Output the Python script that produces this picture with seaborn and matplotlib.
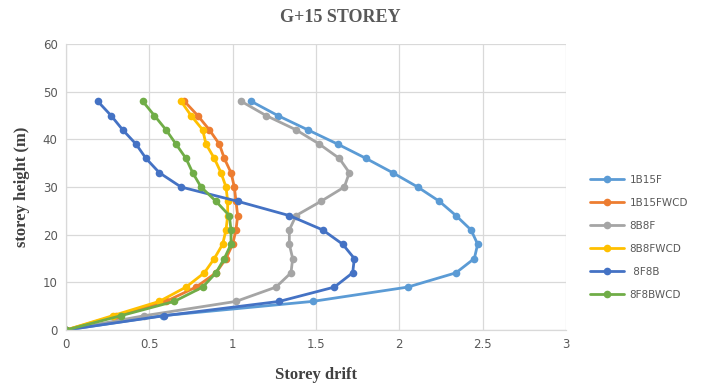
import numpy as np
import pandas as pd
import matplotlib
matplotlib.use("Agg")
import matplotlib.pyplot as plt
import seaborn as sns
from matplotlib.lines import Line2D

heights = [0, 3, 6, 9, 12, 15, 18, 21, 24, 27, 30, 33, 36, 39, 42, 45, 48]

s_1B15F = [0, 0.58, 1.48, 2.05, 2.34, 2.45, 2.47, 2.43, 2.34, 2.24, 2.11, 1.96, 1.80, 1.63, 1.45, 1.27, 1.11]
s_1B15FWCD = [0, 0.30, 0.60, 0.78, 0.90, 0.96, 1.00, 1.02, 1.03, 1.02, 1.01, 0.99, 0.95, 0.92, 0.86, 0.79, 0.71]
s_8B8F = [0, 0.47, 1.02, 1.26, 1.35, 1.36, 1.34, 1.34, 1.38, 1.53, 1.67, 1.70, 1.64, 1.52, 1.38, 1.20, 1.05]
s_8B8FWCD = [0, 0.28, 0.56, 0.72, 0.83, 0.89, 0.94, 0.96, 0.97, 0.97, 0.96, 0.93, 0.89, 0.84, 0.82, 0.75, 0.69]
s_8F8B = [0, 0.59, 1.28, 1.61, 1.72, 1.73, 1.66, 1.54, 1.34, 1.03, 0.69, 0.56, 0.48, 0.42, 0.34, 0.27, 0.19]
s_8F8BWCD = [0, 0.33, 0.65, 0.82, 0.90, 0.95, 0.99, 0.99, 0.98, 0.90, 0.81, 0.76, 0.72, 0.66, 0.60, 0.53, 0.46]

series_names = ["1B15F", "1B15FWCD", "8B8F", "8B8FWCD", " 8F8B", "8F8BWCD"]
series_values = [s_1B15F, s_1B15FWCD, s_8B8F, s_8B8FWCD, s_8F8B, s_8F8BWCD]
colors = ["#5B9BD5", "#ED7D31", "#A5A5A5", "#FFC000", "#4472C4", "#70AD47"]

x_ticks = [0, 0.5, 1, 1.5, 2, 2.5, 3]
x_ticklabels = ["0", "0.5", "1", "1.5", "2", "2.5", "3"]
y_ticks = [0, 10, 20, 30, 40, 50, 60]

rows = []
for name, vals in zip(series_names, series_values):
    for h, v in zip(heights, vals):
        rows.append({"series": name, "drift": v, "height": h})
df = pd.DataFrame(rows)

sns.set_theme(style="white")
fig = plt.figure(figsize=(7.08, 3.83), dpi=100)
ax = fig.add_axes([66/708, 1-330/383, 500/708, 286/383])

sns.lineplot(data=df, x="drift", y="height", hue="series", hue_order=series_names,
             palette=colors, sort=False, estimator=None, marker="o", markersize=5.5,
             markeredgewidth=0, linewidth=2.0, ax=ax, legend=False)

ax.set_xlim(0, 3)
ax.set_ylim(0, 60)
ax.set_xticks(x_ticks)
ax.set_xticklabels(x_ticklabels)
ax.set_yticks(y_ticks)
ax.grid(True, color="#D9D9D9", linewidth=0.9)
ax.set_axisbelow(True)
for sp in ["top", "right"]:
    ax.spines[sp].set_visible(False)
for sp in ["left", "bottom"]:
    ax.spines[sp].set_color("#D9D9D9")
    ax.spines[sp].set_linewidth(0.9)
ax.tick_params(axis="both", length=0, labelsize=8.5, labelcolor="#595959", pad=6)

ax.set_xlabel("Storey drift", fontsize=12, fontweight="bold", family="Liberation Serif",
              color="#404040", labelpad=11)
ax.set_ylabel("storey height (m)", fontsize=12, fontweight="bold", family="Liberation Serif",
              color="#404040", labelpad=9)
fig.text(340/708, 1 - 18/383, "G+15 STOREY", ha="center", va="center",
         fontsize=13, fontweight="bold", family="Liberation Serif", color="#595959")

handles = [Line2D([], [], color=c, linewidth=2.0, marker="o", markersize=5.5, markeredgewidth=0)
           for c in colors]
leg = fig.legend(handles, series_names, loc="upper left",
                 bbox_to_anchor=(590/708, 1 - 175/383), frameon=False, fontsize=7.5,
                 labelspacing=1.25, handlelength=3.3, handletextpad=0.5, borderpad=0,
                 borderaxespad=0, markerfirst=True)
for t in leg.get_texts():
    t.set_color("#595959")

fig.savefig("out.png", dpi=100)
